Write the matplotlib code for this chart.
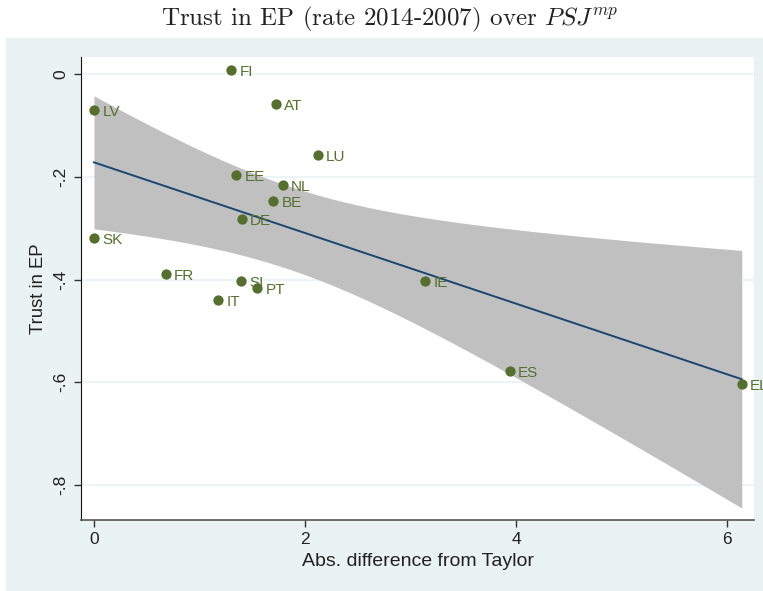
import matplotlib
matplotlib.use("Agg")
import matplotlib.pyplot as plt
from matplotlib.patches import Rectangle
import numpy as np

plt.rcParams['font.family'] = ['Liberation Sans', 'DejaVu Sans']
plt.rcParams['mathtext.fontset'] = 'cm'

# country data: abs. difference from Taylor rule vs change in trust in EP
countries = ['FI', 'LV', 'AT', 'LU', 'EE', 'NL', 'BE', 'DE', 'SK',
             'FR', 'SI', 'PT', 'IT', 'IE', 'ES', 'EL']
taylor_diff = [1.30, 0.00, 1.725, 2.12, 1.346, 1.79, 1.70, 1.40, 0.00,
               0.68, 1.39, 1.545, 1.175, 3.14, 3.94, 6.14]
trust_ep = [0.008, -0.070, -0.058, -0.158, -0.197, -0.216, -0.247, -0.282, -0.319,
            -0.389, -0.403, -0.417, -0.440, -0.403, -0.578, -0.603]

yticks = [0, -0.2, -0.4, -0.6, -0.8]
ytick_labels = ['0', '-.2', '-.4', '-.6', '-.8']
xticks = [0, 2, 4, 6]

x = np.array(taylor_diff)
y = np.array(trust_ep)

# linear fit with 95% CI of the mean prediction
n = len(x)
b, a = np.polyfit(x, y, 1)
resid = y - (a + b * x)
s = np.sqrt(np.sum(resid ** 2) / (n - 2))
sxx = np.sum((x - x.mean()) ** 2)
t_crit = 2.145  # t(0.975, 14)
xg = np.linspace(x.min(), x.max(), 200)
yg = a + b * xg
se = s * np.sqrt(1.0 / n + (xg - x.mean()) ** 2 / sxx)

fig = plt.figure(figsize=(7.63, 5.91), dpi=100)
# light graph-region background below the title
bg = Rectangle((6 / 763, 0), 1, 1 - 38 / 591, transform=fig.transFigure,
               facecolor='#EAF2F3', edgecolor='none', zorder=-10)
fig.add_artist(bg)
ax = fig.add_axes([81 / 763, 71 / 591, 673 / 763, 463 / 591])
ax.set_facecolor('white')

ax.fill_between(xg, yg - t_crit * se, yg + t_crit * se, color='#C0C0C0', lw=0, zorder=2)
ax.plot(xg, yg, color='#1A476F', lw=1.4, zorder=3)
ax.scatter(x, y, s=55, color='#55702E', zorder=4, lw=0)
for c, xi, yi in zip(countries, x, y):
    ax.annotate(c, (xi, yi), xytext=(6, -1.5), textcoords='offset points',
                va='center', ha='left', fontsize=11, color='#55702E',
                zorder=5, annotation_clip=False)

ax.set_xlim(-0.123, 6.256)
ax.set_ylim(-0.868, 0.033)
ax.set_xticks(xticks)
ax.set_yticks(yticks)
ax.set_yticklabels(ytick_labels, rotation=90, va='center')
ax.grid(axis='y', color='#EAF2F3', lw=1.2, zorder=1)
ax.set_axisbelow(True)
ax.tick_params(axis='both', direction='out', length=5, width=1, labelsize=12.5,
               color='#333333', labelcolor='#222222', pad=4)

for side in ['top', 'right']:
    ax.spines[side].set_visible(False)
ax.spines['left'].set_color('#111111')
ax.spines['bottom'].set_color('#555555')
ax.spines['bottom'].set_linewidth(1.2)

ax.set_xlabel('Abs. difference from Taylor', fontsize=14, color='#222222', labelpad=4)
ax.set_ylabel('Trust in EP', fontsize=13.3, color='#222222', labelpad=5)

fig.text(390 / 763, 1 - 19 / 591, r'Trust in EP (rate 2014-2007) over $PSJ^{mp}$',
         ha='center', va='center', fontsize=18, family='cmr10', color='#222222')

fig.savefig('out.png', dpi=100)
